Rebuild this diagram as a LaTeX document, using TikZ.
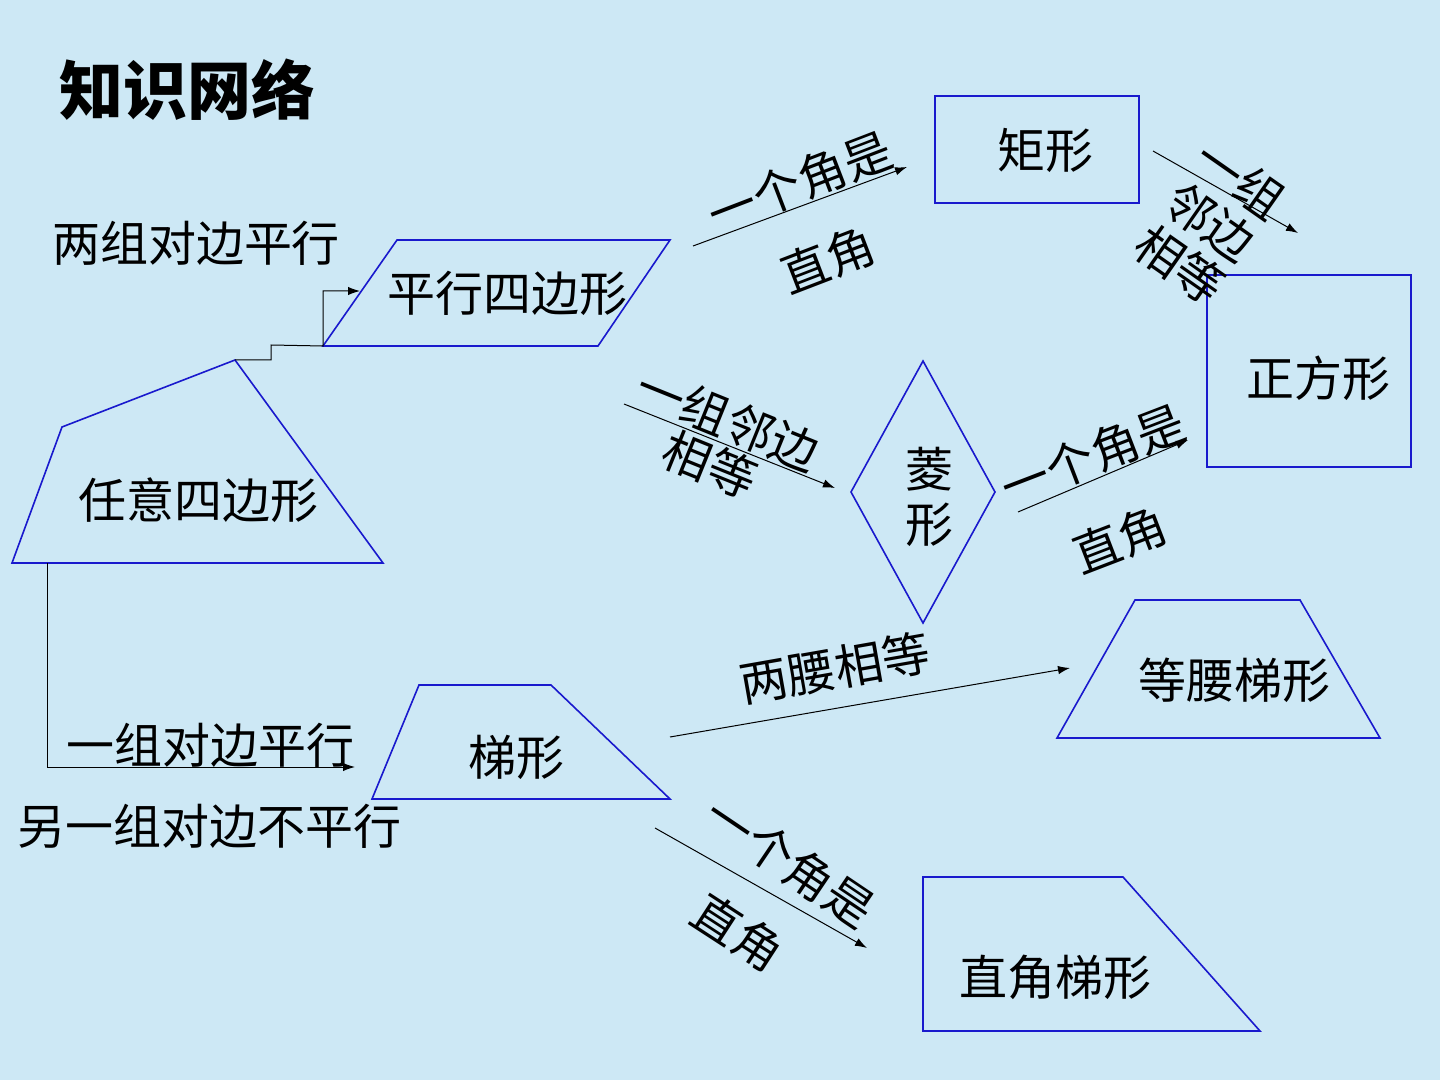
\documentclass[tikz,border=0pt]{standalone}
\usepackage{fontspec}
\newfontfamily\cjk{Noto Sans CJK SC}
\usetikzlibrary{arrows.meta}
\definecolor{bgblue}{RGB}{205,232,245}
\definecolor{edgeblue}{RGB}{25,25,205}

\begin{document}
\begin{tikzpicture}[x=0.5pt,y=0.5pt,yscale=-1,xscale=1,
  every node/.style={font=\cjk\fontsize{24}{24}\selectfont,inner sep=0pt,align=center},
  outline/.style={draw=edgeblue,line width=0.8pt},
  link/.style={draw=black,line width=0.5pt,-{Latex[length=6pt,width=4.2pt]}}]
%set diagram left start at 0, and has height of 1080
\fill[bgblue] (0,0) rectangle (1440,1080);
\useasboundingbox (0,0) rectangle (1440,1080);

%Text: title
\node[font=\cjk\bfseries\fontsize{32}{32}\selectfont] (title) at (187,90) {知识网络};

%Shape: Quadrilateral [任意四边形]
\draw[outline] (12,563) -- (62,427) -- (235,360) coordinate (anyTop) -- (383,563) -- cycle;
\coordinate (anyFoot) at (47,563);
\node (any) at (198,500) {任意四边形};

%Shape: Parallelogram [平行四边形]
\draw[outline] (323,346) coordinate (pgCorner) -- (397,240) -- (670,240) -- (598,346) -- cycle;
\coordinate (pgIn) at (360,291);
\node (pg) at (507,293) {平行四边形};
\node (twoPairs) at (196,243) {两组对边平行};

%Shape: Trapezoid [梯形]
\draw[outline] (372,799) -- (419,685) -- (551,685) -- (670,799) -- cycle;
\coordinate (trapIn) at (355,767);
\node (trap) at (516,757) {梯形};
\node (onePair) at (210,745) {一组对边平行};
\node (otherPair) at (210,826) {另一组对边不平行};

%Shape: Rectangle [矩形]
\draw[outline] (935,96) rectangle (1139,203);
\node (rect) at (1045,150) {矩形};

%Shape: Rectangle [正方形]
\draw[outline] (1207,275) rectangle (1411,467);
\node (square) at (1318,378) {正方形};

%Shape: Diamond [菱形]
\draw[outline] (923,361) -- (995,492) -- (923,623) -- (851,492) -- cycle;
\node[font=\cjk\fontsize{24}{27.5}\selectfont] (rhomb) at (929,497) {菱\\形};

%Shape: Trapezoid [等腰梯形]
\draw[outline] (1057,738) -- (1135,600) -- (1300,600) -- (1380,738) -- cycle;
\node (iso) at (1234,680) {等腰梯形};

%Shape: Trapezoid [直角梯形]
\draw[outline] (923,877) -- (1123,877) -- (1260,1031) -- (923,1031) -- cycle;
\node (rtrap) at (1055,977) {直角梯形};

%Connector ends
\coordinate (pgOutA) at (693,246);
\coordinate (rectIn) at (907,167);
\coordinate (pgOutB) at (624,404);
\coordinate (rhombIn) at (835,488);
\coordinate (rectOut) at (1153,151);
\coordinate (squareInA) at (1298,233);
\coordinate (rhombOut) at (1018,512);
\coordinate (squareInB) at (1188,440);
\coordinate (trapOutA) at (670,737);
\coordinate (isoIn) at (1070,668);
\coordinate (trapOutB) at (655,828);
\coordinate (rtrapIn) at (867,948);

%Connectors
\draw[link] (anyTop) -- (271,360) -- (271,345) -- (pgCorner) -- (323,291) -- (pgIn);
\draw[link] (anyFoot) -- (47,767) -- (trapIn);
\draw[link] (pgOutA) -- (rectIn);
\draw[link] (pgOutB) -- (rhombIn);
\draw[link] (rectOut) -- (squareInA);
\draw[link] (rhombOut) -- (squareInB);
\draw[link] (trapOutA) -- (isoIn);
\draw[link] (trapOutB) -- (rtrapIn);

%Labels on connectors
\node[rotate=21] (rightA) at (800,182) {一个角是};
\node[rotate=21] (rightAb) at (828,260) {直角};
\node[rotate=-22] (adjA) at (719,442) {一组邻边\\相等};
\node[rotate=-35,font=\cjk\fontsize{24}{26}\selectfont] (adjB) at (1210,222) {一组\\邻边\\相等};
\node[rotate=21] (rightB) at (1093,455) {一个角是};
\node[rotate=21] (rightBb) at (1120,540) {直角};
\node[rotate=10] (legs) at (835,668) {两腰相等};
\node[rotate=-34] (rightC) at (790,862) {一个角是};
\node[rotate=-33] (rightCb) at (738,932) {直角};
\end{tikzpicture}
\end{document}
